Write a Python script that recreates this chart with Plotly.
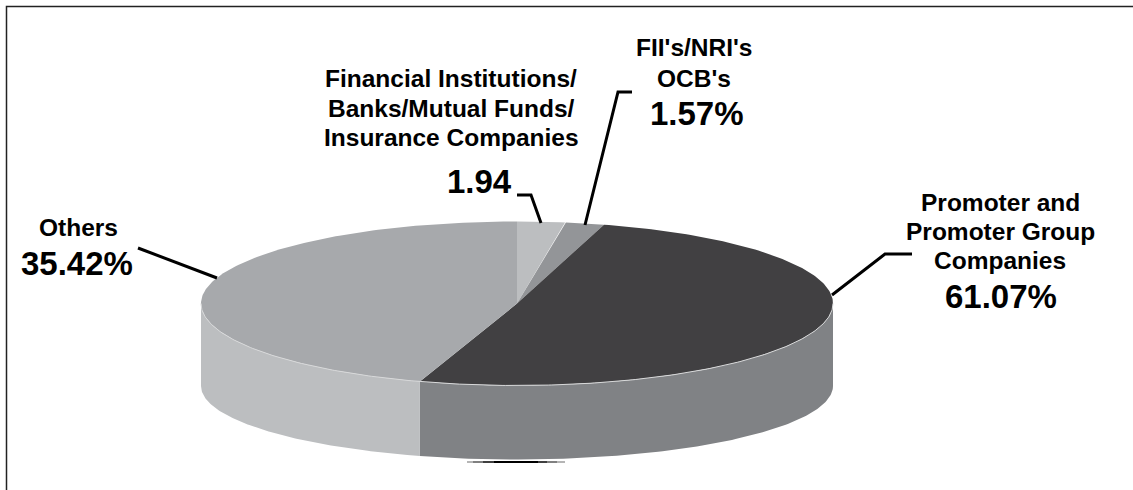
import numpy as np
import plotly.graph_objects as go

# Printed labels
names = [["Financial Institutions/", "Banks/Mutual Funds/", "Insurance Companies"],
         ["FII's/NRI's", "OCB's"],
         ["Promoter and", "Promoter Group", "Companies"],
         ["Others"]]
printed_values = ["1.94", "1.57%", "61.07%", "35.42%"]
# Slice shares as actually drawn in the picture (percent of the ellipse, clockwise from top)
drawn_shares = [2.43, 2.01, 50.53, 45.03]
top_colors = ["#BCBEC0", "#939598", "#414042", "#A7A9AC"]
side_colors = ["#BCBEC0", "#939598", "#808285", "#BCBEC0"]

# Layout geometry (pixels)
CX, CY, RX, RY = 517, 303.5, 316, 82
BCY, BRY = 386, 73.5
W, H = 1133, 490


def top(t):
    return CX + RX * np.sin(t), CY - RY * np.cos(t)


def bottom(t):
    return CX + RX * np.sin(t), BCY - BRY * np.cos(t)


fig = go.Figure()


def poly(x, y, color):
    fig.add_trace(go.Scatter(x=list(x), y=list(y), mode="lines", fill="toself",
                             fillcolor=color, line=dict(width=0, color=color),
                             hoverinfo="skip", showlegend=False))


edges = np.radians(np.concatenate([[0], np.cumsum(drawn_shares)]) * 3.6)

# Side wall (front half only)
for i, c in enumerate(side_colors):
    a, b = max(edges[i], np.pi / 2), min(edges[i + 1], 3 * np.pi / 2)
    if b <= a:
        continue
    t = np.linspace(a, b, 120)
    xt, yt = top(t)
    xb, yb = bottom(t[::-1])
    poly(np.r_[xt, xb], np.r_[yt, yb], c)

# Top face
for i, c in enumerate(top_colors):
    t = np.linspace(edges[i], edges[i + 1], 200)
    xt, yt = top(t)
    poly(np.r_[CX, xt], np.r_[CY, yt], c)

# Thin light rim between top face and wall
t = np.linspace(np.pi / 2, 3 * np.pi / 2, 300)
xr, yr = top(t)
fig.add_trace(go.Scatter(x=xr, y=yr, mode="lines", line=dict(color="#D8D9DA", width=1),
                         hoverinfo="skip", showlegend=False))

# Leader lines
leaders = [
    ([517, 531, 541], [195, 195, 223]),
    ([585, 618, 632], [225, 92, 92]),
    ([832, 885, 912], [295, 254, 254]),
    ([138, 217], [248, 278]),
]
for lx, ly in leaders:
    fig.add_trace(go.Scatter(x=lx, y=ly, mode="lines", line=dict(color="#000000", width=3),
                             hoverinfo="skip", showlegend=False))

# Small stray mark under the pie
for lx, c in [([467, 565], "#B5B5B5"), ([473, 557], "#808080"),
              ([483, 547], "#404040"), ([494, 538], "#000000")]:
    fig.add_trace(go.Scatter(x=lx, y=[462, 462], mode="lines", line=dict(color=c, width=2),
                             hoverinfo="skip", showlegend=False))

FONT = "Liberation Sans"
name_x = [451, 694, 1000, 78]
name_y = [[78, 108, 137], [47, 78], [202, 231, 260], [227]]
val_pos = [(479, 181), (697, 113), (1001, 296), (77, 263)]
anns = []
for lines, nx, ys, v, (vx, vy) in zip(names, name_x, name_y, printed_values, val_pos):
    for line, ny in zip(lines, ys):
        anns.append(dict(x=nx, y=ny, text="<b>%s</b>" % line, showarrow=False, xref="x", yref="y",
                         font=dict(family=FONT, size=24.5, color="#000000"),
                         xanchor="center", yanchor="middle"))
    anns.append(dict(x=vx, y=vy, text="<b>%s</b>" % v, showarrow=False, xref="x", yref="y",
                     font=dict(family=FONT, size=33, color="#000000"),
                     xanchor="center", yanchor="middle"))

fig.update_layout(
    width=W, height=H, margin=dict(l=0, r=0, t=0, b=0, autoexpand=False),
    paper_bgcolor="white", plot_bgcolor="white", showlegend=False,
    xaxis=dict(range=[0, W], visible=False, fixedrange=True),
    yaxis=dict(range=[H, 0], visible=False, fixedrange=True),
    annotations=anns,
    shapes=[dict(type="path", xref="x", yref="y",
                 path="M 6.5 490 L 6.5 6.5 L 1133 6.5",
                 line=dict(color="#222222", width=1.5))],
)
fig.write_html("out.html", config={"displayModeBar": False},
               post_script="document.body.style.margin='0';document.body.style.overflow='hidden';")
